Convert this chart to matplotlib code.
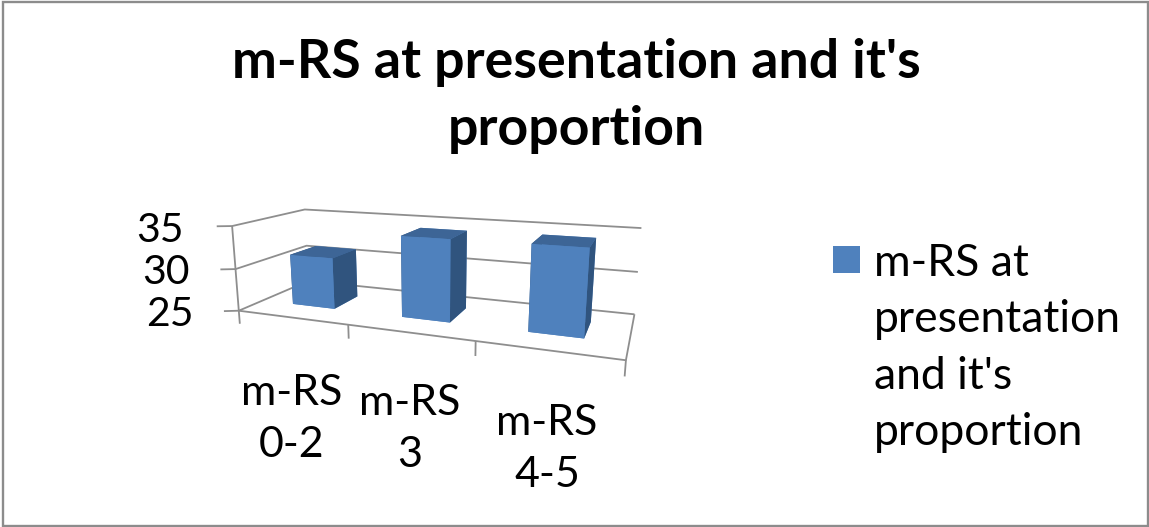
import numpy as np
import matplotlib
matplotlib.use('Agg')
import matplotlib.pyplot as plt
from matplotlib.patches import Rectangle

plt.rcParams['font.family'] = ['Lato', 'DejaVu Sans']

# Chart data
categories = ['m-RS\n0-2', 'm-RS\n3', 'm-RS\n4-5']
values = [31.1, 34.3, 34.4]
value_ticks = [25, 30, 35]
series_name = "m-RS at\npresentation\nand it's\nproportion"
chart_title = "m-RS at presentation and it's\nproportion"

# Figure size in pixels
W, H = 1149, 527

FRONT = '#4F81BD'
TOP = '#3D6596'
SIDE = '#30547E'
GRID = '#8E8E8E'


def px_text(x, y, s, **kw):
    """Place text using pixel coordinates measured from the top left."""
    return fig.text(x / W, 1 - y / H, s, **kw)


def line3d(xs, ys, zs):
    ax.plot(xs, ys, zs, color=GRID, lw=1.3, clip_on=False, zorder=1,
            solid_capstyle='butt')


fig = plt.figure(figsize=(W / 100, H / 100), dpi=100, facecolor='white')

# Frame round the whole chart
fig.add_artist(Rectangle((2.8 / W, 1.1 / H), (W - 3.9) / W, (H - 2.9) / H,
                         transform=fig.transFigure, fill=False,
                         edgecolor='#8C8C8C', lw=1.7))

# Camera of the 3D plot
side = 111.5
cx, cy = 433.2, 272.0
ax = fig.add_axes([(cx - side / 2) / W, 1 - (cy + side / 2) / H, side / W, side / H],
                  projection='3d', computed_zorder=False)
ax.set_xlim(0, len(categories))
ax.set_ylim(0, 1)
ax.set_zlim(value_ticks[0], value_ticks[-1])
ax.view_init(elev=13.45, azim=-69.26, roll=0)
ax.set_box_aspect((1, 0.3444, 0.2308))
ax._dist = 2.788
ax.set_axis_off()

n = len(categories)
z0, z1 = value_ticks[0], value_ticks[-1]

# Gridlines over the side and back walls, then the floor outline
for z in value_ticks:
    line3d([0, 0, n], [0, 1, 1], [z, z, z])
    line3d([0, -0.105], [0, -0.05], [z, z])
line3d([0, 0], [0, 0], [z0, z1])
line3d([0, n, n], [0, 0, 1], [z0, z0, z0])

# Category ticks below the front edge
for i in range(n + 1):
    line3d([i, i], [0, 0], [z0, z0 - 1.6])

# Bars, faces ordered as bottom, top, front, back, left, right
bar_w, y_front, y_back = 0.3975, 0.3089, 0.6924
x_pos = np.arange(n) + 0.5 - bar_w / 2
heights = np.array(values) - z0
face_colors = [FRONT, TOP, FRONT, FRONT, SIDE, SIDE] * n
bars = ax.bar3d(x_pos, np.full(n, y_front), np.full(n, z0), bar_w, y_back - y_front,
                heights, color=face_colors, shade=False, zorder=2)
bars.set_clip_on(False)

# Title, axis labels and legend are set as plain figure text
px_text(576, 96, chart_title, ha='center', va='center', fontsize=38.6,
        fontweight='bold', color='black', linespacing=1.47)

for v, x, y in zip(value_ticks, [194, 190, 184], [315, 273, 230]):
    px_text(x, y, str(v), ha='right', va='center', fontsize=29.5, color='black')

for label, x, y in zip(categories, [292, 410, 547], [419, 429, 449]):
    px_text(x, y, label, ha='center', va='center', fontsize=31, color='black',
            linespacing=1.42)

fig.add_artist(Rectangle((833 / W, 1 - 273 / H), 27 / W, 27 / H,
                         transform=fig.transFigure, facecolor=FRONT, edgecolor='none'))
px_text(874, 348, series_name, ha='left', va='center', fontsize=32, color='black',
        linespacing=1.456)

fig.savefig('out.png', dpi=100)
plt.close(fig)
